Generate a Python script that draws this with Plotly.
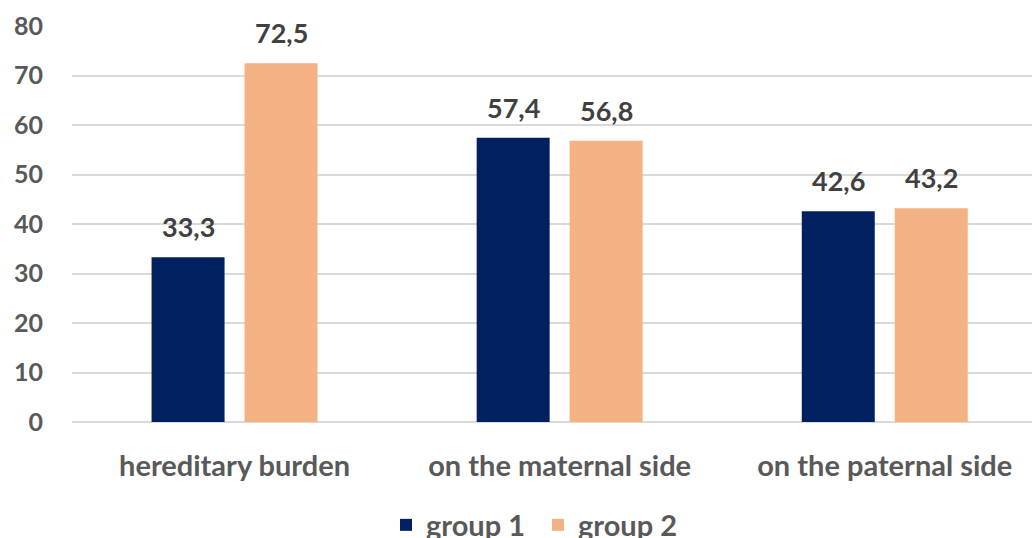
import plotly.graph_objects as go

categories = ["hereditary burden", "on the maternal side", "on the paternal side"]
group1 = [33.3, 57.4, 42.6]
group2 = [72.5, 56.8, 43.2]
series_names = ["group 1", "group 2"]
y_ticks = [0, 10, 20, 30, 40, 50, 60, 70, 80]

colors = ["#002060", "#F4B183"]
FONT = "Lato"

fig = go.Figure()
for name, vals, col in zip(series_names, [group1, group2], colors):
    fig.add_trace(go.Bar(
        name=name, x=categories, y=vals, marker=dict(color=col, line=dict(width=0)),
    ))

plot_l, plot_r = 72, 1032
offsets = [-46.5, 46.5]
for vals, dx in zip([group1, group2], offsets):
    for c, v in zip(categories, vals):
        fig.add_annotation(
            x=c, y=v, xref="x", yref="y", text=f"{v:.1f}".replace(".", ","),
            showarrow=False, xshift=dx, yshift=12, yanchor="bottom",
            font=dict(family=FONT, size=27, color="#404040", weight="bold"),
        )

fig.update_layout(
    width=1032, height=538,
    margin=dict(l=plot_l, r=0, t=26, b=116, autoexpand=False),
    paper_bgcolor="white", plot_bgcolor="white",
    barmode="group", bargap=0.428, bargroupgap=0.215,
    separators=",.",
    showlegend=True,
    legend=dict(
        orientation="h", x=(386 - plot_l) / (plot_r - plot_l), xanchor="left",
        y=-103 / 396, yanchor="middle",
        font=dict(family=FONT, size=29, color="#595959", weight="bold"),
        itemwidth=30, tracegroupgap=0, traceorder="normal", entrywidth=107,
    ),
    xaxis=dict(
        range=[-0.5, 2.5 - 15.3 / 325], showgrid=False, zeroline=False, showline=False,
        ticks="", ticklabelstandoff=24,
        tickfont=dict(family=FONT, size=29, color="#595959", weight="bold"),
        fixedrange=True,
    ),
    yaxis=dict(
        range=[0, 80], tickvals=y_ticks, showgrid=True, gridcolor="#D9D9D9", gridwidth=2,
        zeroline=True, zerolinecolor="#D9D9D9", zerolinewidth=2, showline=False,
        ticks="", ticklabelstandoff=28,
        tickfont=dict(family=FONT, size=25, color="#595959", weight="bold"),
    ),
)

fig.write_html("out.html")
